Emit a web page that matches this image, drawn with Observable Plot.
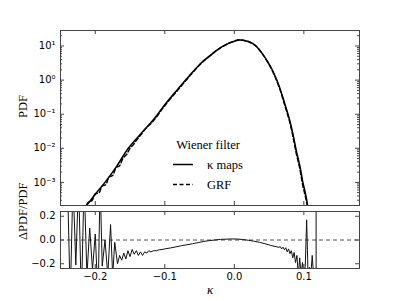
<!DOCTYPE html>
<html><head><meta charset="utf-8">
<script src="https://cdn.jsdelivr.net/npm/d3@7"></script>
<script src="https://cdn.jsdelivr.net/npm/@observablehq/plot@0.6"></script>
<style>
body{margin:0;background:#fff;}
#chart{width:399px;height:299px;overflow:hidden;}
#chart svg{display:block;}
</style></head><body><div id="chart"></div>
<script>
// ---- data ----
const kappaMapK = [-0.222,-0.213,-0.200,-0.186,-0.170,-0.1525,-0.135,-0.117,-0.100,-0.081,-0.065,-0.047,-0.035,-0.023,-0.010,0.000,0.008,0.020,0.030,0.039,0.046,0.053,0.059,0.065,0.072,0.079,0.084,0.089,0.094,0.0985,0.102,0.105,0.107];
const kappaMapPdf = [1e-4,2.0e-4,4.5e-4,1.0e-3,2.8e-3,1.0e-2,0.026,0.066,0.19,0.55,1.32,3.3,5.2,8.1,11.5,13.8,15.1,13.5,10.5,6.5,4.0,2.3,1.26,0.62,0.22,0.074,0.028,0.0087,0.0032,0.00102,0.0005,0.00024,0.0001];
const grfK = [-0.222,-0.215,-0.210,-0.205,-0.200,-0.195,-0.190,-0.185,-0.180,-0.175,-0.170,-0.165,-0.160,-0.155,-0.150,-0.145,-0.140,-0.135,-0.128,-0.117,-0.100,-0.081,-0.065,-0.047,-0.035,-0.023,-0.010,0.000,0.008,0.020,0.030,0.039,0.046,0.053,0.059,0.065,0.072,0.079,0.084,0.089,0.094,0.0985,0.102,0.105,0.107];
const grfPdf = [1e-4,1.7e-4,2.6e-4,2.9e-4,4.6e-4,4.8e-4,7.8e-4,8.6e-4,1.45e-3,1.6e-3,2.7e-3,3.1e-3,5.2e-3,6.6e-3,1.0e-2,1.3e-2,1.8e-2,2.4e-2,3.7e-2,6.2e-2,0.178,0.52,1.26,3.2,5.1,8.0,11.5,13.9,15.2,13.5,10.4,6.4,3.9,2.2,1.19,0.58,0.20,0.066,0.024,0.0072,0.0026,0.0008,0.0004,0.0002,0.0001];
const residK = [-0.240,-0.236,-0.232,-0.228,-0.224,-0.220,-0.216,-0.212,-0.208,-0.204,-0.200,-0.196,-0.193,-0.190,-0.186,-0.182,-0.178,-0.175,-0.172,-0.168,-0.165,-0.162,-0.159,-0.156,-0.153,-0.150,-0.147,-0.144,-0.141,-0.138,-0.135,-0.132,-0.129,-0.126,-0.123,-0.120,-0.116,-0.112,-0.108,-0.104,-0.100,-0.092,-0.084,-0.076,-0.068,-0.060,-0.052,-0.044,-0.036,-0.028,-0.020,-0.012,-0.004,0.004,0.012,0.020,0.028,0.036,0.044,0.052,0.060,0.064,0.066,0.068,0.070,0.072,0.074,0.076,0.078,0.080,0.082,0.084,0.086,0.088,0.090,0.092,0.094,0.096,0.098,0.100,0.102,0.104,0.106,0.108,0.110,0.112,0.114,0.1176,0.1176];
const residVal = [0.5,-0.5,0.5,-0.21,0.5,-0.5,0.5,-0.3,0.1,-0.25,0.05,-0.5,0.5,-0.22,0.0,-0.3,0.13,-0.3,-0.02,-0.2,-0.13,-0.17,-0.11,-0.16,-0.09,-0.14,-0.08,-0.12,-0.09,-0.13,-0.1,-0.13,-0.1,-0.11,-0.09,-0.1,-0.09,-0.09,-0.082,-0.08,-0.075,-0.067,-0.058,-0.048,-0.04,-0.031,-0.022,-0.012,-0.005,0.0,0.005,0.007,0.009,0.008,0.004,-0.002,-0.01,-0.019,-0.031,-0.045,-0.056,-0.062,-0.055,-0.075,-0.06,-0.082,-0.065,-0.1,-0.075,-0.115,-0.09,-0.15,-0.105,-0.19,-0.13,-0.3,-0.15,-0.3,-0.19,-0.3,-0.22,0.17,-0.3,-0.23,-0.3,-0.13,-0.3,-0.3,0.5];
const xTicks = [-0.2,-0.1,0.0,0.1];
const xTickLabels = ["−0.2","−0.1","0.0","0.1"];
const yTicksTop = [1e-3,1e-2,1e-1,1,10];
const yTickLabelsTop = ["10⁻³","10⁻²","10⁻¹","10⁰","10¹"];
const yTicksBottom = [-0.2,0.0,0.2];
const yTickLabelsBottom = ["−0.2","0.0","0.2"];
const legendTitle = "Wiener filter";
const seriesNames = ["κ maps","GRF"];

// ---- build ----
const kappaData = kappaMapK.map((k,i)=>({k, v:kappaMapPdf[i]}));
const grfData = grfK.map((k,i)=>({k, v:grfPdf[i]}));
const residData = residK.map((k,i)=>({k, v:residVal[i]}));
const yMinor = d3.range(-4,2).flatMap(e=>d3.range(2,10).map(m=>m*10**e)).filter(v=>v>2.1e-4&&v<28.5);

const W = 399, ML = 60, MR = 40, FW = W-ML-MR;
const frameColor = "#444";
const tickFont = "DejaVu Sans, sans-serif";
const serif = "Liberation Serif, Times New Roman, serif";

const topH = 207, topMT = 30, topMB = 2, topFH = topH-topMT-topMB;
const topPlot = Plot.plot({
  width: W, height: topH, marginLeft: ML, marginRight: MR, marginTop: topMT, marginBottom: topMB,
  x: {domain: [-0.25, 0.18], axis: null},
  y: {type: "log", domain: [2.1e-4, 28.5], axis: null},
  style: {background: "transparent", overflow: "visible"},
  marks: [
    Plot.line(kappaData, {x:"k", y:"v", stroke:"#000", strokeWidth:1.5, curve:"catmull-rom", clip:true}),
    Plot.line(grfData, {x:"k", y:"v", stroke:"#000", strokeWidth:1.5, strokeDasharray:"4,2.5", curve:"catmull-rom", clip:true}),
    Plot.tickY(yTicksTop, {y:d=>d, insetRight: FW-4, stroke: frameColor}),
    Plot.tickY(yTicksTop, {y:d=>d, insetLeft: FW-4, stroke: frameColor}),
    Plot.tickY(yMinor, {y:d=>d, insetRight: FW-2, stroke: frameColor}),
    Plot.tickY(yMinor, {y:d=>d, insetLeft: FW-2, stroke: frameColor}),
    Plot.tickX(xTicks, {x:d=>d, insetBottom: topFH-4, stroke: frameColor}),
    Plot.tickX(xTicks, {x:d=>d, insetTop: topFH-4, stroke: frameColor}),
    Plot.frame({stroke: frameColor}),
    Plot.axisY(yTicksTop, {label: null, tickSize:0, tickPadding:5, tickFormat: d=>yTickLabelsTop[yTicksTop.indexOf(d)], fontSize:10, fontFamily: tickFont, fill:"#000"}),
    Plot.text(["PDF"], {frameAnchor:"left", dx:-38, rotate:-90, fontSize:12.5, fontFamily: serif, fill:"#000"})
  ]
});

const botH = 92, botMT = 4, botMB = 31, botFH = botH-botMT-botMB;
const botPlot = Plot.plot({
  width: W, height: botH, marginLeft: ML, marginRight: MR, marginTop: botMT, marginBottom: botMB,
  x: {domain: [-0.25, 0.18], axis: null},
  y: {domain: [-0.24, 0.24], axis: null},
  style: {background: "transparent", overflow: "visible"},
  marks: [
    Plot.ruleY([0], {stroke:"#555", strokeDasharray:"4,3"}),
    Plot.line(residData, {x:"k", y:"v", stroke:"#111", strokeWidth:1, clip:true}),
    Plot.tickY(yTicksBottom, {y:d=>d, insetRight: FW-4, stroke: frameColor}),
    Plot.tickY(yTicksBottom, {y:d=>d, insetLeft: FW-4, stroke: frameColor}),
    Plot.tickX(xTicks, {x:d=>d, insetBottom: botFH-4, stroke: frameColor}),
    Plot.tickX(xTicks, {x:d=>d, insetTop: botFH-4, stroke: frameColor}),
    Plot.frame({stroke: frameColor}),
    Plot.axisY(yTicksBottom, {label: null, tickSize:0, tickPadding:5, tickFormat: d=>yTickLabelsBottom[yTicksBottom.indexOf(d)], fontSize:10, fontFamily: tickFont, fill:"#000"}),
    Plot.axisX(xTicks, {label: null, tickSize:0, tickPadding:4, tickFormat: d=>xTickLabels[xTicks.indexOf(d)], fontSize:10, fontFamily: tickFont, fill:"#000"}),
    Plot.text(["ΔPDF/PDF"], {frameAnchor:"left", dx:-38, rotate:-90, fontSize:12.5, fontFamily: serif, fill:"#000"}),
    Plot.text(["κ"], {frameAnchor:"bottom", dy:25, fontSize:13, fontStyle:"italic", fontFamily: serif, fill:"#000"})
  ]
});

// legend
const sel = d3.select(topPlot);
const lg = sel.append("g").attr("font-family", serif).attr("font-size", 12.5).attr("fill", "#000").attr("text-anchor","start");
lg.append("text").attr("x", 208).attr("y", 148.5).attr("text-anchor","middle").text(legendTitle);
lg.append("line").attr("x1",173).attr("x2",193).attr("y1",164.5).attr("y2",164.5).attr("stroke","#000").attr("stroke-width",1.5);
lg.append("text").attr("x", 207).attr("y", 169).text(seriesNames[0]);
lg.append("line").attr("x1",173).attr("x2",193).attr("y1",184.5).attr("y2",184.5).attr("stroke","#000").attr("stroke-width",1.5).attr("stroke-dasharray","4,2.5");
lg.append("text").attr("x", 207).attr("y", 188.5).text(seriesNames[1]);

document.getElementById("chart").append(topPlot, botPlot);
</script></body></html>
